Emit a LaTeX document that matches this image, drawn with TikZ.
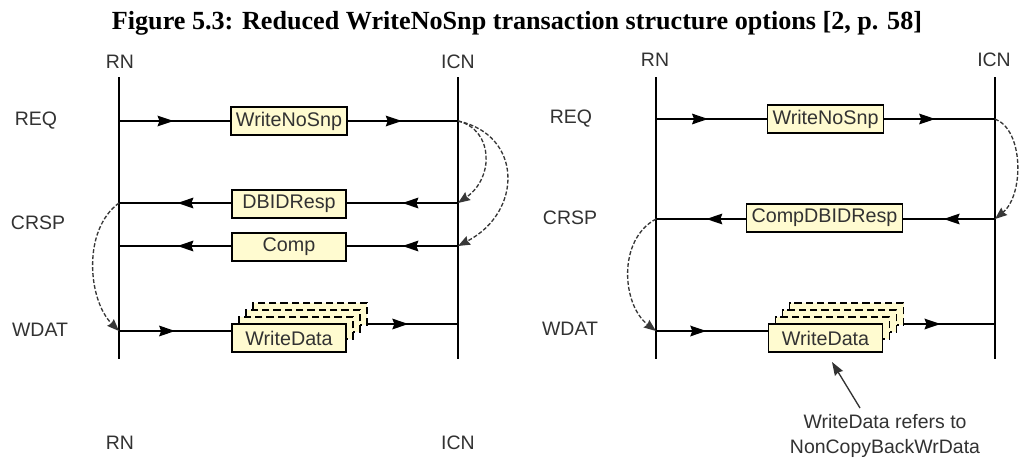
\documentclass[tikz,border=0pt]{standalone}
\usepackage{fontspec}
\setmainfont{Liberation Serif}
\setsansfont{Liberation Sans}
\usetikzlibrary{arrows.meta,decorations.markings}
\definecolor{msgfill}{RGB}{255,251,208}
\definecolor{ink}{RGB}{50,50,50}
\definecolor{curveink}{RGB}{55,55,55}
\begin{document}
\begin{tikzpicture}[x=0.75pt,y=-0.75pt,
  lbl/.style={font=\sffamily\fontsize{14.6pt}{18.75pt}\selectfont, text=ink, inner sep=0pt},
  msgbox/.style={draw=black, line width=1.1pt, fill=msgfill,
    font=\sffamily\fontsize{14.8pt}{17pt}\selectfont, text=ink,
    minimum width=85.5pt, minimum height=21pt, inner xsep=3.75pt, inner ysep=0pt},
  ghost/.style={msgbox, dash pattern=on 5.5pt off 3pt, minimum height=16.5pt},
  lifeline/.style={line width=1.1pt},
  msg/.style={line width=1.05pt, postaction=decorate,
    decoration={markings, mark=at position #1 with {\arrow{Stealth[length=12pt,width=8pt,inset=1.5pt]}}}},
  msg/.default=0.5,
  dep/.style={curveink, line width=1pt, dash pattern=on 3pt off 1.5pt,
    -{Stealth[length=9pt,width=7pt,inset=1pt]}},
  pointer/.style={ink, line width=1pt, -{Stealth[length=10pt,width=7pt,inset=1pt]}},
]
\path[use as bounding box, fill=white] (0,0) rectangle (1019,457);

% caption
\node[font=\bfseries\fontsize{19.6pt}{22pt}\selectfont, anchor=base, inner sep=0pt] (title)
  at (517,29) {Figure 5.3: Reduced WriteNoSnp transaction structure options [2, p. 58]};

% ---------- left: separate DBIDResp and Comp ----------
\node[lbl] (rnA) at (120,62) {RN};
\node[lbl] (icnA) at (458,62) {ICN};
\node[lbl] (rnAb) at (120,443) {RN};
\node[lbl] (icnAb) at (458,443) {ICN};
\coordinate (rnAtop) at (119,77);  \coordinate (rnAbot) at (119,359);
\coordinate (icnAtop) at (458,77); \coordinate (icnAbot) at (458,359);
\draw[lifeline] (rnAtop) -- (rnAbot);
\draw[lifeline] (icnAtop) -- (icnAbot);

\node[lbl] (reqA) at (36,121) {REQ};
\node[lbl] (crspA) at (38,223) {CRSP};
\node[lbl] (wdatA) at (40,330) {WDAT};

\coordinate (rnAreq) at (119,121);  \coordinate (icnAreq) at (458,121);
\coordinate (rnAdbid) at (119,203); \coordinate (icnAdbid) at (458,203);
\coordinate (rnAcomp) at (119,246); \coordinate (icnAcomp) at (458,246);
\coordinate (rnAwd) at (119,331);   \coordinate (icnAwd) at (458,324);

\node[msgbox] (wnsA) at (289,121) {WriteNoSnp};
\node[msgbox] (dbidA) at (289,204) {DBIDResp};
\node[msgbox] (compA) at (289,247) {Comp};
\node[ghost] (gA3) at (310,314) {};
\node[ghost] (gA2) at (303,321) {};
\node[ghost] (gA1) at (296,328) {};
\node[msgbox] (wdA) at (289,338) {WriteData};

\draw[msg=0.49] (rnAreq) -- (wnsA);
\draw[msg=0.49] (wnsA) -- (icnAreq);
\draw[msg] (icnAdbid) -- (icnAdbid -| dbidA.east);
\draw[msg=0.48] (rnAdbid -| dbidA.west) -- (rnAdbid);
\draw[msg] (icnAcomp) -- (icnAcomp -| compA.east);
\draw[msg=0.48] (rnAcomp -| compA.west) -- (rnAcomp);
\draw[msg] (rnAwd) -- (rnAwd -| wdA.west);
\draw[msg=0.45] (icnAwd -| gA3.east) -- (icnAwd);

\draw[dep] (icnAreq) .. controls (494,130) and (494,178) .. (icnAdbid);
\draw[dep] (icnAreq) .. controls (523,135) and (523,212) .. (icnAcomp);
\draw[dep] (rnAdbid) .. controls (82,230) and (88,300) .. (rnAwd);

% ---------- right: combined CompDBIDResp ----------
\node[lbl] (rnB) at (655,60) {RN};
\node[lbl] (icnB) at (994,60) {ICN};
\coordinate (rnBtop) at (656,77);  \coordinate (rnBbot) at (656,359);
\coordinate (icnBtop) at (995,77); \coordinate (icnBbot) at (995,359);
\draw[lifeline] (rnBtop) -- (rnBbot);
\draw[lifeline] (icnBtop) -- (icnBbot);

\node[lbl] (reqB) at (571,119) {REQ};
\node[lbl] (crspB) at (570,218) {CRSP};
\node[lbl] (wdatB) at (570,329) {WDAT};

\coordinate (rnBreq) at (656,119);  \coordinate (icnBreq) at (995,119);
\coordinate (rnBcrsp) at (656,219); \coordinate (icnBcrsp) at (995,219);
\coordinate (rnBwd) at (656,331);   \coordinate (icnBwd) at (995,324);

\node[msgbox] (wnsB) at (825.5,119) {WriteNoSnp};
\node[msgbox] (cdbB) at (824.5,218) {CompDBIDResp};
\node[ghost] (gB3) at (846.5,314) {};
\node[ghost] (gB2) at (839.5,321) {};
\node[ghost] (gB1) at (832.5,328) {};
\node[msgbox] (wdB) at (825.5,338) {WriteData};

\draw[msg=0.47] (rnBreq) -- (wnsB);
\draw[msg=0.46] (wnsB) -- (icnBreq);
\draw[msg=0.56] (icnBcrsp) -- (icnBcrsp -| cdbB.east);
\draw[msg=0.44] (rnBcrsp -| cdbB.west) -- (rnBcrsp);
\draw[msg=0.45] (rnBwd) -- (rnBwd -| wdB.west);
\draw[msg=0.4] (icnBwd -| gB3.east) -- (icnBwd);

\draw[dep] (icnBreq) .. controls (1024,130) and (1024,195) .. (icnBcrsp);
\draw[dep] (rnBcrsp) .. controls (617,240) and (622,305) .. (rnBwd);

% note on the data beats
\node[lbl, align=center] (noteB) at (885,436) {WriteData refers to\\NonCopyBackWrData};
\coordinate (noteTail) at (860,408);
\coordinate (noteHead) at (832,362);
\draw[pointer] (noteTail) -- (noteHead);
\end{tikzpicture}
\end{document}
